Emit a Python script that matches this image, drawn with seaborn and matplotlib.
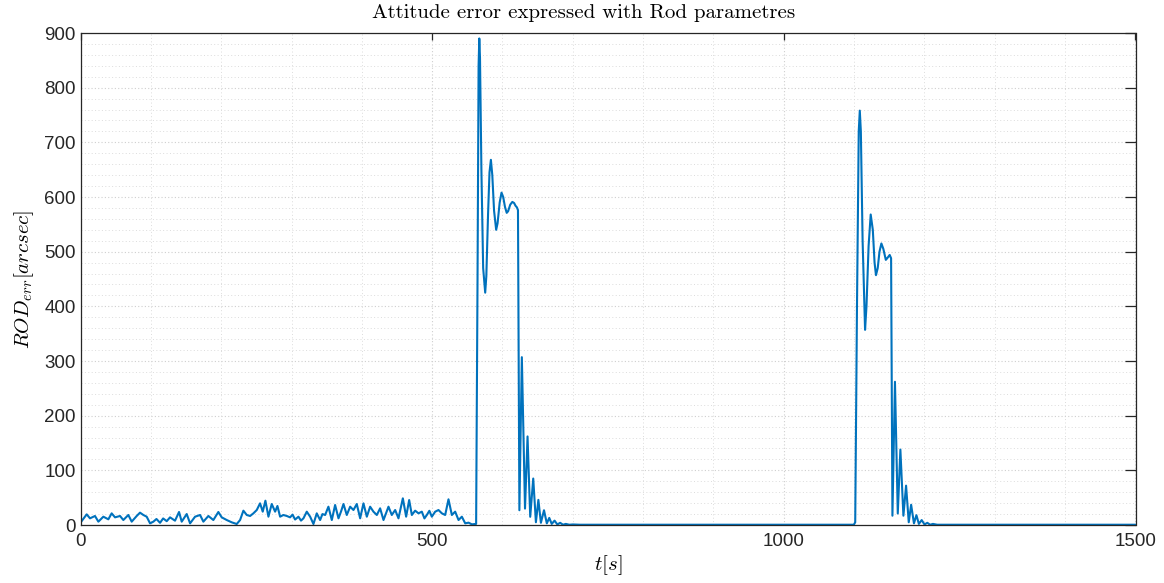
import matplotlib
matplotlib.use("Agg")
import matplotlib.pyplot as plt
import seaborn as sns
import numpy as np
from matplotlib.ticker import MultipleLocator

# ---- data ----
t_noise = [0, 8.8, 13.5, 20.6, 25.4, 32.5, 39.6, 44.3, 49.1, 56.2, 60.9, 68, 72.8, 79.9,
           84.6, 89.4, 94.1, 98.9, 103.6, 108, 113.1, 117.5, 122.6, 127.3, 134.4, 140.1,
           143.9, 151, 155.8, 162.9, 170, 174.7, 181.8, 188.9, 196, 200.8, 207.9, 215,
           222.1, 226.9, 231.6, 236.4, 241.1, 245.8, 250.6, 255.3, 259.1, 262.9, 267.2,
           271.9, 276.7, 280, 283.8, 288.5, 293.3, 298, 301.5, 305.1, 309.9, 313.5, 317,
           321.7, 326.5, 331.2, 335.9, 340.7, 344, 347.8, 352.5, 357.3, 362, 366.8, 370.5,
           373.9, 378.6, 383.4, 388.1, 392.8, 397.6, 402.3, 407.1, 411.8, 416.5, 421.3,
           426, 430.8, 434.5, 437.9, 442.6, 447.4, 452.1, 458.3, 463, 467.3, 471.1, 475.8,
           480.6, 485.3, 489, 492.4, 496, 499.5, 504.3, 509, 513.8, 518.5, 523.2, 528,
           532.7, 537.5, 542.2, 547, 551.7, 556.4, 561]
v_noise = [4.3, 19.5, 12.2, 16.5, 6.1, 15.2, 10.4, 21.3, 14, 16.5, 9.1, 18.3, 6.1, 16.5,
           22.6, 18.3, 15.2, 3, 6.1, 11, 4, 12, 7, 14, 7.9, 23.8,
           6.1, 20.1, 3, 15.2, 18.3, 6.1, 16.5, 9.1, 23.8, 14, 9.1, 4.9,
           1.8, 9.1, 26.2, 18.3, 16.5, 21.3, 27.4, 39.6, 24.4, 44.5, 15.2,
           38.4, 24.4, 34.8, 15.2, 18.3, 16.5, 14, 19, 10, 15.2, 8, 12.2,
           24.4, 15.2, 1.8, 21.3, 9.1, 20, 18.3, 33.5, 9.1, 36.6, 12.2, 25,
           38.4, 18.3, 33.5, 27.4, 38.4, 12.2, 39.6, 15.2, 33.5, 24.4, 18.3,
           30.5, 9.1, 22, 33.5, 18.3, 27.4, 12.2, 48.8, 15.2, 45.7, 18.3, 26.2,
           21.3, 24.4, 12, 18.3, 26, 15.2, 24.4, 27.4, 21.3, 18.3, 47, 18.3,
           24.4, 9.1, 15.2, 3, 4.3, 1.2, 1.8]

t_event1 = [562.5, 564.5, 566, 567, 568, 570, 572.5, 575.4, 577, 579.5, 581.5, 583.5,
            585.5, 588, 591, 593, 596, 598.6, 601, 603.5, 606, 608, 611, 614, 616.5,
            618.5, 620.5, 622, 624, 627.5, 632, 635.6, 639.4, 643.7, 647.5, 651, 654.6,
            659, 663, 666.5, 670, 674, 678, 682, 686, 690, 695, 700]
v_event1 = [2, 450, 840, 890, 855, 650, 470, 425, 455, 570, 645, 668,
            640, 575, 540, 552, 590, 608, 600, 582, 571, 574, 586, 591, 589,
            584, 581, 576, 27, 307, 30, 162, 15, 85, 5, 46, 4,
            27, 3, 13, 2, 8, 1, 4, 0.5, 2, 0.5, 1]

t_flat = [710, 800, 900, 1000, 1099.5]
v_flat = [0.5, 0.5, 0.5, 0.5, 0.5]

t_event2 = [1101.5, 1104, 1106.5, 1108, 1109.5, 1112, 1115.5, 1117.5, 1120.5, 1123.5,
            1126.5, 1129, 1131, 1133.5, 1136, 1138.7, 1141.5, 1145, 1147, 1150.5, 1152.5,
            1154.4, 1158, 1162, 1165.7, 1170, 1173.8, 1177.6, 1181, 1185, 1188.5, 1192,
            1196, 1200, 1204, 1208, 1212, 1218, 1300, 1400, 1500]
v_event2 = [5, 400, 720, 758, 720, 520, 357, 400, 510, 568,
            540, 480, 457, 470, 500, 515, 505, 485, 488, 494, 488,
            17, 262, 21, 138, 17, 72, 5, 37, 3, 18, 2,
            9, 1, 4, 0.5, 2, 0.5, 0.5, 0.5, 0.5]

t_all = t_noise + t_event1 + t_flat + t_event2
v_all = v_noise + v_event1 + v_flat + v_event2

title_text = "Attitude error expressed with Rod parametres"
xlabel_text = r"$t[s]$"
ylabel_text = r"$ROD_{err}[arcsec]$"

# ---- style ----
sns.set_theme(style="white")
plt.rcParams["font.family"] = ["Liberation Sans", "DejaVu Sans"]
plt.rcParams["mathtext.fontset"] = "cm"

fig = plt.figure(figsize=(11.64, 5.83), dpi=100)
ax = fig.add_axes([80.5 / 1164, 58 / 583, (1135.5 - 80.5) / 1164, (525 - 33) / 583])

sns.lineplot(x=t_all, y=v_all, ax=ax, color="#0072BD", linewidth=1.5, sort=False,
             estimator=None)

ax.set_xlim(0, 1500)
ax.set_ylim(0, 900)
ax.xaxis.set_major_locator(MultipleLocator(500))
ax.xaxis.set_minor_locator(MultipleLocator(100))
ax.yaxis.set_major_locator(MultipleLocator(100))
ax.yaxis.set_minor_locator(MultipleLocator(20))

ax.grid(True, which="major", color="#cfcfcf", linestyle=(0, (1, 2)), linewidth=0.8)
ax.grid(True, which="minor", color="#dcdcdc", linestyle=(0, (1, 2.5)), linewidth=0.7)
ax.set_axisbelow(True)

for s in ax.spines.values():
    s.set_color("#262626")
    s.set_linewidth(0.9)
    s.set_visible(True)

ax.tick_params(axis="both", which="major", direction="in", colors="#262626",
               labelsize=13.5, top=True, right=True, width=0.9)
ax.tick_params(axis="y", which="major", length=8)
ax.tick_params(axis="x", which="major", length=5)
ax.tick_params(which="minor", length=0)
ax.tick_params(axis="x", pad=6)

ax.set_title(title_text, fontfamily="cmr10", fontsize=15, color="#000000", pad=11,
             x=0.477)
ax.set_xlabel(xlabel_text, fontsize=15, color="#000000", labelpad=2)
ax.set_ylabel(ylabel_text, fontsize=15, color="#000000", labelpad=6)

fig.savefig("out.png", dpi=100, facecolor="white")
